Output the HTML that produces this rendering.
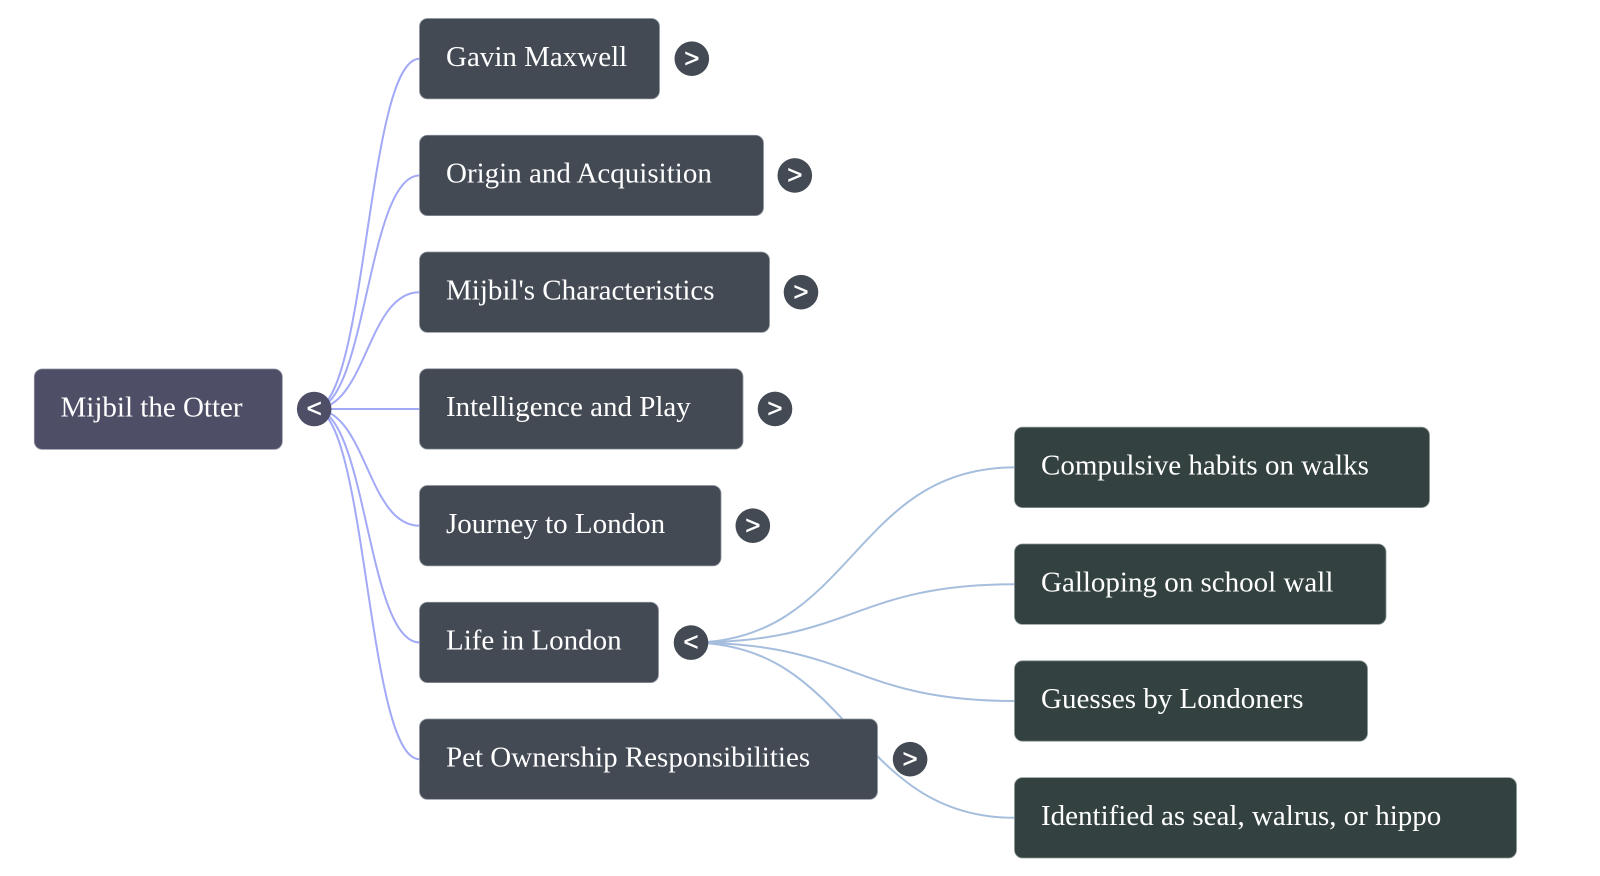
<!DOCTYPE html>
<html>
<head>
<meta charset="utf-8">
<style>
  html,body{margin:0;padding:0;background:#ffffff;}
  body{width:1600px;height:876px;overflow:hidden;}
  svg{display:block;}
  .t{font-family:"Liberation Serif","Times New Roman",serif;font-size:29px;fill:#ffffff;}
  .g{font-family:"Liberation Sans",Arial,sans-serif;font-size:26px;fill:#ffffff;stroke:#ffffff;stroke-width:0.5;text-anchor:middle;}
</style>
</head>
<body>
<svg width="1600" height="876" viewBox="0 0 1600 876" xmlns="http://www.w3.org/2000/svg">
  <!-- root edges -->
  <g fill="none" stroke="#a2a9f6" stroke-width="2">
    <path d="M314.2,409 C366.85,409 366.85,58.7 419.5,58.7"/>
    <path d="M314.2,409 C366.85,409 366.85,175.45 419.5,175.45"/>
    <path d="M314.2,409 C366.85,409 366.85,292.2 419.5,292.2"/>
    <path d="M314.2,409 L419.5,409"/>
    <path d="M314.2,409 C366.85,409 366.85,525.7 419.5,525.7"/>
    <path d="M314.2,409 C366.85,409 366.85,642.45 419.5,642.45"/>
    <path d="M314.2,409 C366.85,409 366.85,759.2 419.5,759.2"/>
  </g>
  <!-- Life in London edges -->
  <g fill="none" stroke="#a6bedd" stroke-width="2">
    <path d="M691,642.6 C852.75,642.6 852.75,467.4 1014.5,467.4"/>
    <path d="M691,642.6 C852.75,642.6 852.75,584.2 1014.5,584.2"/>
    <path d="M691,642.6 C852.75,642.6 852.75,701 1014.5,701"/>
    <path d="M691,642.6 C852.75,642.6 852.75,817.8 1014.5,817.8"/>
  </g>

  <!-- root node -->
  <rect x="34.3" y="369" width="248" height="80.4" rx="8" ry="8" fill="#4e4f66" stroke="#8d8fa0" stroke-width="0.8"/>
  <text class="t" x="60.5" y="416.5">Mijbil the Otter</text>
  <circle cx="314.2" cy="409" r="17.3" fill="#4e4f66"/>
  <text class="g" x="314.2" y="417.1">&lt;</text>

  <!-- children -->
  <g>
    <rect x="419.5" y="18.5" width="240" height="80.4" rx="8" ry="8" fill="#434a54" stroke="#8f959e" stroke-width="0.8"/>
    <text class="t" x="446" y="65.9">Gavin Maxwell</text>
    <circle cx="691.8" cy="58.7" r="17.3" fill="#434a54"/>
    <text class="g" x="691.8" y="66.8">&gt;</text>

    <rect x="419.5" y="135.25" width="344" height="80.4" rx="8" ry="8" fill="#434a54" stroke="#8f959e" stroke-width="0.8"/>
    <text class="t" x="446" y="182.6">Origin and Acquisition</text>
    <circle cx="794.8" cy="175.45" r="17.3" fill="#434a54"/>
    <text class="g" x="794.8" y="183.55">&gt;</text>

    <rect x="419.5" y="252" width="350" height="80.4" rx="8" ry="8" fill="#434a54" stroke="#8f959e" stroke-width="0.8"/>
    <text class="t" x="446" y="299.4">Mijbil's Characteristics</text>
    <circle cx="801" cy="292.2" r="17.3" fill="#434a54"/>
    <text class="g" x="801" y="300.3">&gt;</text>

    <rect x="419.5" y="368.75" width="323.5" height="80.4" rx="8" ry="8" fill="#434a54" stroke="#8f959e" stroke-width="0.8"/>
    <text class="t" x="446" y="416.1">Intelligence and Play</text>
    <circle cx="775" cy="408.95" r="17.3" fill="#434a54"/>
    <text class="g" x="775" y="417.05">&gt;</text>

    <rect x="419.5" y="485.5" width="301.5" height="80.4" rx="8" ry="8" fill="#434a54" stroke="#8f959e" stroke-width="0.8"/>
    <text class="t" x="446" y="532.9">Journey to London</text>
    <circle cx="752.8" cy="525.7" r="17.3" fill="#434a54"/>
    <text class="g" x="752.8" y="533.8">&gt;</text>

    <rect x="419.5" y="602.25" width="239" height="80.4" rx="8" ry="8" fill="#434a54" stroke="#8f959e" stroke-width="0.8"/>
    <text class="t" x="446" y="649.6">Life in London</text>
    <circle cx="691" cy="642.6" r="17.3" fill="#434a54"/>
    <text class="g" x="691" y="650.7">&lt;</text>

    <rect x="419.5" y="719" width="458" height="80.4" rx="8" ry="8" fill="#434a54" stroke="#8f959e" stroke-width="0.8"/>
    <text class="t" x="446" y="766.3">Pet Ownership Responsibilities</text>
    <circle cx="910.1" cy="759.2" r="17.3" fill="#434a54"/>
    <text class="g" x="910.1" y="767.3">&gt;</text>
  </g>

  <!-- grandchildren -->
  <g>
    <rect x="1014.5" y="427.2" width="415" height="80.4" rx="8" ry="8" fill="#334240" stroke="#8a9593" stroke-width="0.8"/>
    <text class="t" x="1041" y="474.6">Compulsive habits on walks</text>

    <rect x="1014.5" y="544" width="371.5" height="80.4" rx="8" ry="8" fill="#334240" stroke="#8a9593" stroke-width="0.8"/>
    <text class="t" x="1041" y="591.4">Galloping on school wall</text>

    <rect x="1014.5" y="660.8" width="353" height="80.4" rx="8" ry="8" fill="#334240" stroke="#8a9593" stroke-width="0.8"/>
    <text class="t" x="1041" y="708.2">Guesses by Londoners</text>

    <rect x="1014.5" y="777.6" width="502" height="80.4" rx="8" ry="8" fill="#334240" stroke="#8a9593" stroke-width="0.8"/>
    <text class="t" x="1041" y="825">Identified as seal, walrus, or hippo</text>
  </g>
</svg>
</body>
</html>
